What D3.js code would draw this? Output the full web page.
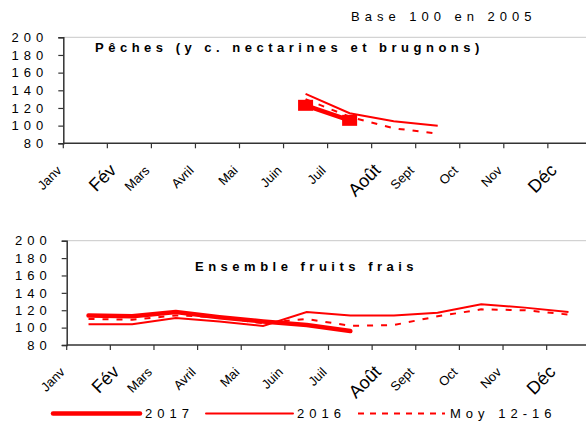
<!DOCTYPE html>
<html>
<head>
<meta charset="utf-8">
<script src="https://cdn.jsdelivr.net/npm/d3@7"></script>
<style>
  body { margin: 0; background: #fff; }
  svg { display: block; font-family: "Liberation Sans", Arial, sans-serif; }
</style>
</head>
<body>
<svg id="chart" width="586" height="425"></svg>
<script>
// mois (axe des x) et graduations
const months = ["Janv", "Fév", "Mars", "Avril", "Mai", "Juin", "Juil", "Août", "Sept", "Oct", "Nov", "Déc"];
const bigMonths = ["Fév", "Août", "Déc"]; // ces libellés sont plus gros dans l'original
const yTicks = [80, 100, 120, 140, 160, 180, 200];

// Pêches (y c. nectarines et brugnons)
const peches2017 = [null, null, null, null, null, 123, 106, null, null, null, null, null];
const peches2016 = [null, null, null, null, null, 136, 114, 105, 100, null, null, null];
const pechesMoy = [null, null, null, null, null, 130, 110, 97, 91, null, null, null];

// Ensemble fruits frais
const fruits2017 = [114, 113, 118, 112, 107, 103, 96, null, null, null, null, null];
const fruits2016 = [104, 104, 111, 107, 102, 118, 114, 114, 117, 127, 123, 118];
const fruitsMoy = [110, 109, 114, 112, 105, 110, 102, 103, 113, 121, 120, 115];

const legendLabels = ["2017", "2016", "Moy 12-16"];

const red = "#ff0000";
const svg = d3.select("#chart");

function drawPanel(cfg) {
  const g = svg.append("g");

  const x = d3.scaleBand().domain(months).range([cfg.x0, cfg.x1]);
  const y = d3.scaleLinear().domain([80, 200]).range([cfg.yBottom, cfg.yTop]);
  const cx = m => x(m) + x.bandwidth() / 2;

  // bordure haute grise
  g.append("line")
    .attr("x1", cfg.x0).attr("x2", 586)
    .attr("y1", cfg.yTop).attr("y2", cfg.yTop)
    .attr("stroke", "#c8c8c8").attr("stroke-width", 1);

  // axe des y
  const yAxis = g.append("g")
    .attr("transform", `translate(${cfg.x0},0)`)
    .call(d3.axisLeft(y).tickValues(yTicks).tickSize(5).tickFormat(d3.format("d")));
  yAxis.select(".domain").attr("stroke", "#333").attr("stroke-width", 1.5);
  yAxis.selectAll(".tick line").attr("stroke", "#333").attr("stroke-width", 1.2);
  yAxis.selectAll(".tick text")
    .attr("x", -15)
    .attr("font-size", 13)
    .attr("letter-spacing", "5px")
    .attr("fill", "#000")
    .attr("font-family", "Liberation Sans, Arial, sans-serif");

  // axe des x (graduations entre les mois)
  g.append("line")
    .attr("x1", cfg.x0).attr("x2", cfg.x1)
    .attr("y1", cfg.yBottom).attr("y2", cfg.yBottom)
    .attr("stroke", "#333").attr("stroke-width", 1.5);
  g.selectAll(".xtick").data(months).join("line")
    .attr("class", "xtick")
    .attr("x1", d => x(d)).attr("x2", d => x(d))
    .attr("y1", cfg.yBottom).attr("y2", cfg.yBottom + 5)
    .attr("stroke", "#333").attr("stroke-width", 1.2);
  g.selectAll(".xlab").data(months).join("text")
    .attr("class", "xlab")
    .attr("text-anchor", "end")
    .attr("font-size", d => bigMonths.includes(d) ? 18 : 13)
    .attr("transform", d => {
      const dx = bigMonths.includes(d) ? 10 : -1;
      return `translate(${x(d) + dx},${cfg.yBottom + 28}) rotate(-45)`;
    })
    .text(d => d);

  // titre
  g.append("text")
    .attr("x", cfg.titleX).attr("y", cfg.titleY)
    .attr("font-size", 13).attr("font-weight", "bold")
    .attr("letter-spacing", "4.5px")
    .text(cfg.title);

  const line = d3.line()
    .defined(d => d.v != null)
    .x(d => cx(d.m))
    .y(d => y(d.v));
  const toPts = arr => arr.map((v, i) => ({ m: months[i], v: v }));

  g.append("path").datum(toPts(cfg.moy))
    .attr("d", line).attr("fill", "none")
    .attr("stroke", red).attr("stroke-width", 2)
    .attr("stroke-dasharray", "6,8");
  g.append("path").datum(toPts(cfg.s2016))
    .attr("d", line).attr("fill", "none")
    .attr("stroke", red).attr("stroke-width", 2);
  g.append("path").datum(toPts(cfg.s2017))
    .attr("d", line).attr("fill", "none")
    .attr("stroke", red).attr("stroke-width", 4.5)
    .attr("stroke-linejoin", "round").attr("stroke-linecap", "round");

  if (cfg.markers) {
    g.selectAll(".mk").data(toPts(cfg.s2017).filter(d => d.v != null)).join("rect")
      .attr("class", "mk")
      .attr("x", d => cx(d.m) - 7.5).attr("y", d => y(d.v) - 5.5)
      .attr("width", 15).attr("height", 11)
      .attr("fill", red);
  }
}

drawPanel({
  x0: 63.3, x1: 591.9, yTop: 37.3, yBottom: 143.3,
  title: "Pêches (y c. nectarines et brugnons)", titleX: 95, titleY: 52,
  s2017: peches2017, s2016: peches2016, moy: pechesMoy, markers: true
});

drawPanel({
  x0: 66.7, x1: 590.3, yTop: 240.7, yBottom: 345,
  title: "Ensemble fruits frais", titleX: 195, titleY: 271,
  s2017: fruits2017, s2016: fruits2016, moy: fruitsMoy, markers: false
});

// mention en haut à droite
svg.append("text")
  .attr("x", 351).attr("y", 21)
  .attr("font-size", 13).attr("letter-spacing", "5px")
  .text("Base 100 en 2005");

// légende
const legendItems = [
  { label: legendLabels[0], x1: 53, x2: 140, tx: 145, w: 4.5, dash: null },
  { label: legendLabels[1], x1: 206, x2: 293, tx: 297, w: 2, dash: null },
  { label: legendLabels[2], x1: 358, x2: 445, tx: 450, w: 2, dash: "6,6" }
];
const lg = svg.append("g");
lg.selectAll("line").data(legendItems).join("line")
  .attr("x1", d => d.x1).attr("x2", d => d.x2)
  .attr("y1", 413.5).attr("y2", 413.5)
  .attr("stroke", red).attr("stroke-width", d => d.w)
  .attr("stroke-linecap", d => d.dash ? "butt" : "round")
  .attr("stroke-dasharray", d => d.dash);
lg.selectAll("text").data(legendItems).join("text")
  .attr("x", d => d.tx).attr("y", 418)
  .attr("font-size", 13).attr("letter-spacing", "5px")
  .text(d => d.label);
</script>
</body>
</html>
